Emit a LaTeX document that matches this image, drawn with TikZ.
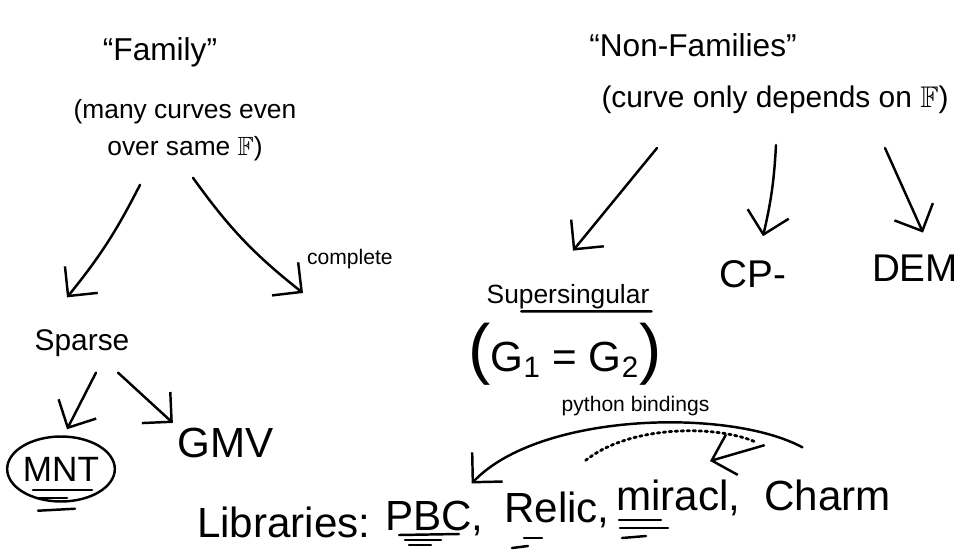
\documentclass[tikz,border=0pt]{standalone}
\usepackage{amsmath,amssymb}
\usepackage{fontspec}
\setmainfont{Liberation Sans}
\usepackage{xcolor}
\usepackage{tikz}
\usetikzlibrary{positioning,arrows.meta,calc,shapes.geometric}

\begin{document}
\begin{tikzpicture}[
    x=0.02cm, y=-0.02cm,
    hw/.style={font=\fontsize{#1}{#1}\selectfont, inner sep=1pt, align=center},
    stroke/.style={line width=1.4pt, line cap=round, line join=round},
    arrow/.style={stroke, -{Straight Barb[length=12pt,width=24pt]}},
    dots/.style={stroke, dotted, line width=1.6pt}
]
\useasboundingbox (0,0) rectangle (963,557);

% families
\node[hw=18] (family) at (160,52) {``Family''};
\node[hw=15] (fdesc) at (185,130) {(many curves even\\[6pt] over same $\mathbb{F}$)};
\node[hw=17] (sparse) at (82,343) {Sparse};
\node[hw=20, stroke, draw, ellipse, minimum width=2.04cm, minimum height=1.3cm, inner sep=0pt] (mnt) at (61,469) {MNT};
\node[hw=24] (gmv) at (226,443) {GMV};
\coordinate (cplt) at (303,293);
\node[hw=12, anchor=south west] (cpltlbl) at ($(cplt)+(2,-22)$) {complete};

\draw[arrow] ($(fdesc.south)+(-45,22)$) to[bend left=6] ($(sparse.north)+(-15,-30)$);
\draw[arrow] ($(fdesc.south)+(8,15)$) to[bend right=8] (cplt);
\draw[arrow] ($(sparse.south)+(14,14)$) -- ($(mnt.north)+(6,-6)$);
\draw[arrow] ($(sparse.south)+(36,14)$) -- ($(gmv.north west)+(-3,-3)$);

% underlines MNT
\draw[stroke] ($(mnt.center)+(-28,21)$) -- ($(mnt.center)+(31,21)$);
\draw[stroke] ($(mnt.center)+(-24,29)$) -- ($(mnt.center)+(6,29)$);
\draw[stroke] ($(mnt.south)+(-23,8)$) -- ($(mnt.south)+(14,6)$);

% non families
\node[hw=18] (nonfam) at (693,45) {``Non-Families''};
\node[hw=17] (nfdesc) at (775,100) {(curve only depends on $\mathbb{F}$)};
\node[hw=15] (ss) at (568,297) {Supersingular};
\node[hw=24] (g12) at (565,354) {{\fontsize{38}{38}\selectfont(}G\textsubscript{1} = G\textsubscript{2}{\fontsize{38}{38}\selectfont)}};
\node[hw=22] (cp) at (753,274) {CP-};
\node[hw=22] (dem) at (915,268) {DEM};

\draw[arrow] ($(nfdesc.south)+(-118,32)$) -- ($(ss.north)+(5,-32)$);
\draw[arrow] ($(nfdesc.south)+(1,29)$) to[bend left=5] ($(cp.north)+(10,-22)$);
\draw[arrow] ($(nfdesc.south)+(110,32)$) -- ($(dem.north)+(8,-20)$);
\draw[stroke] ($(ss.south west)!.22!(ss.south east)$) -- (ss.south east);

% libraries
\node[hw=24, anchor=base west] (libs) at (195,537) {Libraries:};
\node[hw=24, anchor=base west] (pbc) at (383,530) {PBC,};
\node[hw=24, anchor=base west] (relic) at (502,522) {Relic,};
\node[hw=24, anchor=base west] (miracl) at (614,510) {miracl,};
\node[hw=24, anchor=base west] (charm) at (762,510) {Charm};
\coordinate (cbind) at (710,461);

\draw[stroke] ($(pbc.base west)+(16,5)$) -- ++(60,-1);
\draw[stroke] ($(pbc.base west)+(22,10)$) -- ++(36,0);
\draw[stroke] ($(pbc.base west)+(26,15)$) -- ++(22,0);
\draw[stroke] ($(relic.base west)+(22,16)$) -- ++(18,0);
\draw[stroke] ($(relic.base west)+(10,26)$) -- ++(16,-2);
\draw[stroke] ($(miracl.base west)+(5,10)$) -- ++(42,0);
\draw[stroke] ($(miracl.base west)+(6,18)$) -- ++(48,0);
\draw[stroke] ($(miracl.base west)+(8,28)$) -- ++(24,-2);

\draw[arrow] ($(charm.north)+(-25,-30)$) .. controls (730,408) and (540,412) .. ($(pbc.north east)+(-14,-15)$)
    node[hw=12, pos=0.5, above=3pt] (pylbl) {python bindings};
\draw[arrow] ($(charm.north west)+(2,-32)$) -- (cbind);
\draw[dots] ($(charm.north west)+(-8,-36)$) .. controls (715,425) and (630,425) .. ($(relic.north east)+(-26,-29)$);
\end{tikzpicture}
\end{document}
